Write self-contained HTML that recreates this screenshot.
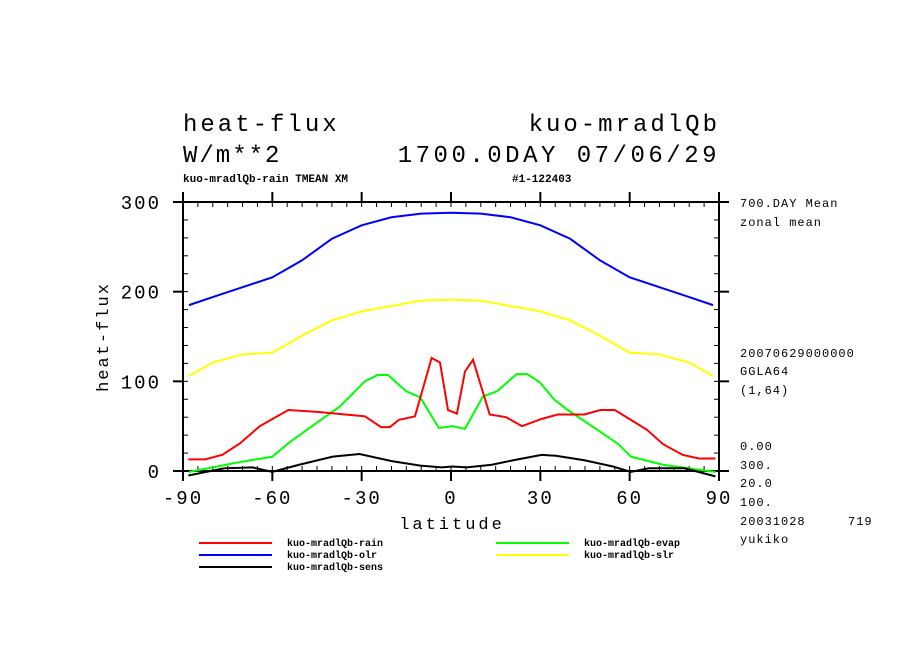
<!DOCTYPE html>
<html><head><meta charset="utf-8"><style>
body{margin:0;background:#fff;width:904px;height:654px;overflow:hidden}
svg text{font-family:"Liberation Mono",monospace;fill:#000}
</style></head><body>
<svg width="904" height="654">
<g id="g"></g>
</svg>
<script>
const xTicks=[-90,-60,-30,0,30,60,90];
const yTicks=[0,100,200,300];
const rainLat=[-88.2,-82.6,-76.8,-70.8,-64.2,-60,-54.6,-45,-35.5,-28.9,-23.5,-20.5,-17.5,-12.1,-6.5,-3.7,-1,2,4.7,7.4,13,18.5,23.8,30.4,35.8,44.8,50.2,55,60.4,65.8,71.2,77.8,83.2,88.8];
const rainVal=[13,13,18,31,50,58,68,66,63,61,49,49,57,61,126,121,68,64,111,124,63,60,50,58,63,63,68,68,57,46,30,18,14,14];
const olrLat=[-88,-80,-70,-60,-50,-40,-30,-20,-10,0,10,20,30,40,50,60,70,80,88];
const olrVal=[185,194,205,216,235,259,274,283,287,288,287,283,274,259,235,216,205,194,185];
const slrLat=[-88,-80,-70,-60,-50,-40,-30,-20,-10,0,10,20,30,40,50,60,70,80,88];
const slrVal=[106,121,130,132,151,168,178,184,190,191,190,184,178,168,151,132,130,121,106];
const evapLat=[-88,-79.8,-72.6,-60,-54.6,-45,-37.3,-28.9,-24.7,-21.1,-15.1,-10.3,-4.1,0.5,4.7,10.7,15.5,22,25.6,29.8,34.6,38.8,49.6,56.2,60.4,71.2,82,88.8];
const evapVal=[-1,4,9,16,31,54,72,100,107,107,89,82,48,50,47,83,89,108,108,99,80,69,45,30,16,7,2,-1];
const sensLat=[-88.2,-76.2,-66.6,-60,-51,-39.7,-30.7,-19.9,-10.3,-3.1,0.5,5.3,13.7,20.9,30.4,35.2,44.8,54.4,60.4,66.4,78.4,88.8];
const sensVal=[-5,3,4,-1,7,16,19,11,6,4,5,4,7,12,18,17,12,5,-1,3,3,-6];

const X0=183,X1=719,Y0=471,Y300=202;
const sx=v=>X0+(v+90)/180*(X1-X0);
const sy=v=>Y0-v/300*(Y0-Y300);
const g=document.getElementById('g');
const NS='http://www.w3.org/2000/svg';
function el(t,a,txt){const e=document.createElementNS(NS,t);for(const k in a)e.setAttribute(k,a[k]);if(txt!==undefined)e.textContent=txt;g.appendChild(e);return e;}
function ln(x1,y1,x2,y2,w,c){return el('line',{x1,y1,x2,y2,stroke:c||'#000','stroke-width':w||1});}

const fr=el('rect',{x:X0,y:Y300,width:X1-X0,height:Y0-Y300,fill:'none',stroke:'#000','stroke-width':2});


for(let v=-90;v<=90;v+=5){const x=sx(v);ln(x,Y0,x,Y0-5,1);ln(x,Y300,x,Y300+5,1);}
for(const v of xTicks){const x=sx(v);ln(x,Y0,x,Y0+10,2);ln(x,Y300,x,Y300-10,2);
 const t=el('text',{x:x,y:Y0+33,'text-anchor':'middle','font-size':19,'letter-spacing':2},String(v));
 
 }
for(let v=0;v<=300;v+=20){const y=sy(v);ln(X0,y,X0+5,y,1);ln(X1,y,X1-5,y,1);}
for(const v of yTicks){const y=sy(v);ln(X0,y,X0-10,y,2);ln(X1,y,X1+10,y,2);
 const t=el('text',{x:X0-22,y:y+7,'text-anchor':'end','font-size':19,'letter-spacing':2},String(v));
 
 }

function series(lat,val,c,name){
 const p=el('polyline',{points:lat.map((l,i)=>sx(l)+','+sy(val[i])).join(' '),fill:'none',stroke:c,'stroke-width':2});
 
 
}
series(olrLat,olrVal,'#0000ff','olr-line');
series(slrLat,slrVal,'#ffff00','slr-line');
series(evapLat,evapVal,'#00ff00','evap-line');
series(rainLat,rainVal,'#ff0000','rain-line');
series(sensLat,sensVal,'#000000','sens-line');
</script>
<svg style="position:absolute;left:0;top:0" width="904" height="654">
<text x="183" y="131" font-size="24" letter-spacing="3">heat-flux</text>
<text x="720" y="131" font-size="24" letter-spacing="3" text-anchor="end">kuo-mradlQb</text>
<text x="183" y="162" font-size="24" letter-spacing="2">W/m**2</text>
<text x="720" y="162" font-size="24" letter-spacing="3.5" text-anchor="end">1700.0DAY 07/06/29</text>
<text x="183" y="182" font-size="11" font-weight="bold">kuo-mradlQb-rain TMEAN XM</text>
<text x="512" y="182" font-size="11" font-weight="bold">#1-122403</text>
<text transform="translate(108,337) rotate(-90)" font-size="17" letter-spacing="2" text-anchor="middle">heat-flux</text>
<text x="452" y="529" font-size="17" letter-spacing="3" text-anchor="middle">latitude</text>
<g font-size="12" letter-spacing="1">
<text x="740" y="207">700.DAY Mean</text>
<text x="740" y="226">zonal mean</text>
<text x="740" y="357">20070629000000</text>
<text x="740" y="375">GGLA64</text>
<text x="740" y="394">(1,64)</text>
<text x="740" y="450">0.00</text>
<text x="740" y="469">300.</text>
<text x="740" y="487">20.0</text>
<text x="740" y="506">100.</text>
<text x="740" y="525">20031028</text>
<text x="848" y="525">719</text>
<text x="740" y="543">yukiko</text>
</g>
<g font-size="10" font-weight="bold">
<line x1="199" y1="543" x2="272" y2="543" stroke="#ff0000" stroke-width="2"/><text x="287" y="546">kuo-mradlQb-rain</text>
<line x1="199" y1="555" x2="272" y2="555" stroke="#0000ff" stroke-width="2"/><text x="287" y="558">kuo-mradlQb-olr</text>
<line x1="199" y1="567" x2="272" y2="567" stroke="#000" stroke-width="2"/><text x="287" y="570">kuo-mradlQb-sens</text>
<line x1="496" y1="543" x2="569" y2="543" stroke="#00ff00" stroke-width="2"/><text x="584" y="546">kuo-mradlQb-evap</text>
<line x1="496" y1="555" x2="569" y2="555" stroke="#ffff00" stroke-width="2"/><text x="584" y="558">kuo-mradlQb-slr</text>
</g>
</svg>
</body></html>
